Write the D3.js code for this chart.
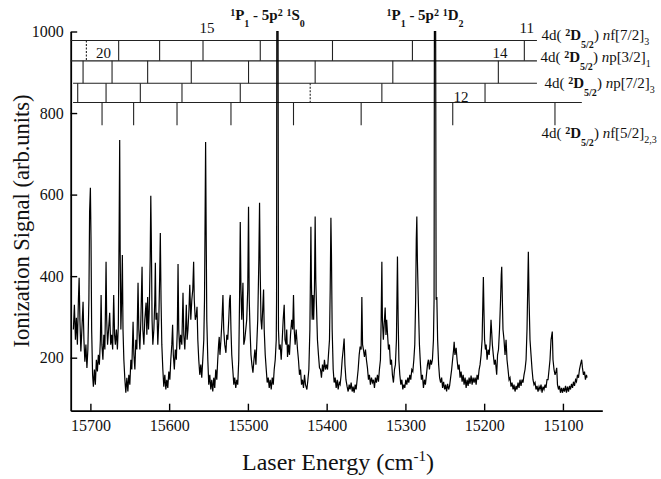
<!DOCTYPE html>
<html>
<head>
<meta charset="utf-8">
<script src="https://cdn.jsdelivr.net/npm/d3@7"></script>
<style>
  html, body { margin: 0; padding: 0; background: #fff; }
  svg { display: block; }
  svg text { font-family: "Liberation Serif", "DejaVu Serif", "Times New Roman", serif; }
</style>
</head>
<body>
<svg id="chart" width="661" height="479"></svg>
<script>
// Ionization spectrum: [laser energy (cm^-1), signal (arb. units)]
const spectrum = [
  [15721.6,269],[15720.3,330],[15719.0,244],[15717.8,298],[15716.5,232],[15715.2,342],[15714.3,396],[15713.3,293],
  [15712.1,215],[15710.8,269],[15709.3,337],[15708.2,244],[15707.0,190],[15705.7,232],[15704.4,175],[15703.2,220],
  [15701.9,342],[15701.0,558],[15700.0,617],[15699.2,489],[15698.4,269],[15697.2,158],[15696.2,129],[15694.9,171],
  [15693.7,134],[15692.4,195],[15691.1,166],[15689.9,207],[15688.6,183],[15687.3,244],[15686.4,354],[15685.4,232],
  [15684.1,195],[15682.9,256],[15681.6,220],[15680.7,342],[15680.1,435],[15679.3,293],[15678.2,232],[15676.9,269],
  [15675.5,310],[15674.2,232],[15673.0,256],[15671.7,220],[15670.4,354],[15669.3,256],[15668.3,232],[15667.0,269],
  [15665.7,220],[15664.5,281],[15663.5,514],[15662.8,734],[15662.2,465],[15661.3,269],[15660.3,342],[15659.4,452],
  [15658.6,269],[15657.5,195],[15656.2,146],[15655.0,114],[15653.7,151],[15652.4,117],[15651.2,158],[15649.9,134],
  [15648.6,195],[15647.4,171],[15645.8,288],[15644.8,207],[15643.5,171],[15642.3,244],[15641.0,220],[15639.5,384],
  [15638.5,269],[15637.2,220],[15635.9,293],[15634.4,423],[15633.4,269],[15632.1,232],[15630.9,293],[15629.3,335],
  [15628.3,256],[15627.3,349],[15626.2,269],[15625.2,318],[15624.1,440],[15623.3,597],[15622.6,489],[15621.7,293],
  [15620.7,232],[15619.4,269],[15618.2,342],[15617.5,433],[15616.7,293],[15615.4,310],[15614.4,232],[15613.1,293],
  [15612.1,391],[15611.2,506],[15610.3,342],[15609.3,232],[15608.0,171],[15606.8,129],[15605.5,158],[15604.2,122],
  [15603.0,146],[15601.7,126],[15600.4,166],[15599.1,146],[15597.9,195],[15596.6,232],[15595.6,281],[15594.7,207],
  [15593.4,171],[15592.2,220],[15590.9,195],[15589.6,269],[15588.7,430],[15587.8,269],[15586.7,220],[15585.4,256],
  [15583.9,232],[15582.4,359],[15581.4,256],[15580.1,220],[15579.1,269],[15578.2,330],[15577.2,244],[15576.1,269],
  [15574.8,318],[15573.8,379],[15572.5,293],[15571.2,342],[15570.0,367],[15568.9,435],[15568.1,342],[15566.8,293],
  [15565.5,305],[15564.6,325],[15563.6,244],[15562.4,195],[15561.1,158],[15559.8,183],[15558.6,151],[15557.3,195],
  [15556.0,244],[15555.1,342],[15554.5,501],[15553.7,729],[15553.0,514],[15552.2,293],[15550.9,195],[15549.7,134],
  [15548.4,158],[15547.1,122],[15545.9,146],[15544.6,117],[15543.3,151],[15542.1,126],[15540.8,171],[15539.5,146],
  [15538.3,195],[15537.2,232],[15536.4,251],[15535.5,207],[15534.2,244],[15532.9,293],[15531.7,354],[15530.7,269],
  [15529.4,232],[15527.9,212],[15526.8,256],[15525.6,244],[15524.3,293],[15523.3,342],[15522.4,354],[15521.5,269],
  [15520.5,207],[15519.2,171],[15517.9,134],[15516.7,151],[15515.4,126],[15514.1,146],[15512.9,134],[15511.6,195],
  [15510.6,342],[15509.7,533],[15508.8,367],[15507.8,293],[15506.3,384],[15505.2,232],[15504.0,244],[15502.7,269],
  [15501.5,293],[15500.2,367],[15499.2,570],[15498.3,342],[15497.3,269],[15496.1,207],[15494.9,183],[15493.6,163],
  [15492.3,195],[15491.1,220],[15489.8,183],[15488.5,244],[15487.5,293],[15486.1,440],[15485.2,580],[15484.4,416],
  [15483.4,293],[15482.4,269],[15481.2,318],[15480.1,367],[15479.3,269],[15478.0,207],[15476.7,171],[15475.5,139],
  [15474.2,151],[15472.9,126],[15471.7,146],[15470.4,122],[15469.1,151],[15467.8,134],[15466.6,171],[15465.3,195],
  [15464.0,244],[15463.6,342],[15463.3,1000],[15461.7,1000],[15461.2,269],[15460.2,220],[15459.0,232],[15457.7,195],
  [15456.4,244],[15455.2,293],[15453.9,330],[15452.9,244],[15451.6,232],[15450.7,269],[15449.7,202],[15448.4,232],
  [15447.2,207],[15445.9,256],[15444.4,293],[15443.1,269],[15442.1,354],[15441.2,269],[15440.0,232],[15438.7,269],
  [15437.0,220],[15435.8,195],[15434.5,158],[15433.2,171],[15431.9,134],[15430.7,146],[15429.4,126],[15428.1,158],
  [15426.9,134],[15425.1,122],[15423.8,146],[15422.6,171],[15421.3,269],[15420.5,416],[15420.0,521],[15419.4,391],
  [15418.4,293],[15417.5,354],[15416.5,293],[15415.5,367],[15414.6,546],[15413.8,391],[15412.9,327],[15411.7,244],
  [15410.4,207],[15409.1,175],[15407.8,171],[15406.6,151],[15405.3,183],[15404.0,166],[15402.8,195],[15401.5,171],
  [15400.2,183],[15398.9,171],[15397.7,207],[15396.4,244],[15395.5,367],[15394.6,543],[15393.9,452],[15393.0,269],
  [15391.7,171],[15390.5,139],[15389.2,151],[15387.9,126],[15386.6,146],[15385.4,122],[15384.1,139],[15382.9,134],
  [15381.6,158],[15380.3,195],[15379.0,220],[15377.8,247],[15376.8,183],[15375.5,146],[15374.0,129],[15372.7,117],
  [15371.4,134],[15370.2,122],[15368.9,139],[15367.6,117],[15366.4,129],[15365.1,114],[15363.8,134],[15362.6,122],
  [15361.3,146],[15360.0,171],[15358.7,207],[15357.5,227],[15356.2,220],[15355.3,349],[15354.4,232],[15353.3,220],
  [15352.0,202],[15350.7,220],[15349.5,195],[15348.2,175],[15346.9,146],[15345.7,158],[15344.4,134],[15343.1,151],
  [15341.8,139],[15340.6,146],[15339.3,126],[15338.1,151],[15336.8,139],[15335.5,158],[15334.2,141],[15333.0,171],
  [15331.7,195],[15330.8,293],[15329.9,435],[15329.2,293],[15328.0,244],[15327.0,281],[15325.7,323],[15324.7,256],
  [15323.8,293],[15322.8,261],[15321.5,220],[15320.3,232],[15319.0,183],[15317.7,195],[15316.5,158],[15315.2,139],
  [15313.9,171],[15312.7,183],[15311.4,244],[15310.1,448],[15309.2,293],[15308.3,195],[15307.1,158],[15305.8,134],
  [15304.5,146],[15303.3,122],[15302.0,134],[15300.8,126],[15299.5,146],[15298.2,134],[15296.9,151],[15295.7,139],
  [15294.4,158],[15293.2,146],[15291.9,171],[15290.6,166],[15289.3,195],[15288.1,232],[15287.0,342],[15286.2,489],
  [15285.5,546],[15284.8,440],[15283.5,330],[15282.2,232],[15280.9,183],[15279.7,146],[15278.4,158],[15277.1,126],
  [15275.8,146],[15274.6,134],[15273.3,158],[15272.0,183],[15270.8,195],[15269.5,171],[15268.2,195],[15267.0,183],
  [15265.7,195],[15264.4,244],[15263.6,342],[15263.2,1000],[15261.6,1000],[15261.0,342],[15260.1,349],[15259.1,244],
  [15257.8,183],[15256.6,151],[15255.3,139],[15254.0,151],[15252.8,126],[15251.5,141],[15250.2,122],[15248.9,134],
  [15247.7,117],[15246.4,136],[15245.1,122],[15243.9,131],[15242.6,151],[15241.3,171],[15240.1,195],[15238.8,220],
  [15238.1,239],[15237.1,207],[15235.6,224],[15234.4,195],[15233.1,171],[15231.8,183],[15230.6,151],[15229.3,166],
  [15228.0,141],[15226.7,158],[15225.5,134],[15224.2,151],[15222.9,126],[15221.7,146],[15220.4,131],[15219.1,151],
  [15217.9,136],[15216.6,156],[15215.3,134],[15214.1,151],[15212.8,139],[15211.5,151],[15210.2,134],[15209.0,158],
  [15207.7,146],[15206.4,171],[15205.2,183],[15203.9,207],[15202.6,244],[15201.6,342],[15201.0,398],[15200.3,318],
  [15199.5,244],[15198.4,220],[15197.5,232],[15196.3,195],[15195.0,220],[15193.7,207],[15192.6,232],[15191.3,293],
  [15190.4,261],[15189.6,232],[15188.4,207],[15187.1,183],[15185.8,195],[15184.1,158],[15183.0,207],[15181.8,220],
  [15180.5,269],[15179.2,342],[15178.3,403],[15177.7,423],[15176.9,342],[15176.1,269],[15174.8,244],[15173.5,207],
  [15172.2,244],[15171.0,195],[15169.7,171],[15168.4,146],[15167.2,151],[15165.9,129],[15164.6,139],[15163.3,122],
  [15162.1,134],[15160.8,117],[15159.5,131],[15158.3,122],[15157.0,139],[15155.7,126],[15154.5,146],[15153.2,131],
  [15151.9,146],[15150.7,139],[15149.4,158],[15148.1,171],[15146.8,195],[15145.6,269],[15143.9,460],[15143.0,342],
  [15141.8,244],[15140.5,207],[15139.2,171],[15138.0,146],[15136.7,134],[15135.4,139],[15134.2,122],[15132.9,131],
  [15131.6,117],[15130.3,129],[15129.1,122],[15127.8,134],[15126.5,114],[15125.3,129],[15124.0,122],[15122.7,134],
  [15121.5,126],[15120.2,146],[15118.9,146],[15117.6,171],[15116.4,195],[15115.1,244],[15113.5,264],[15112.6,195],
  [15111.3,171],[15110.0,158],[15108.8,166],[15107.9,175],[15106.9,134],[15105.6,122],[15104.4,131],[15103.1,114],
  [15101.8,126],[15100.5,114],[15099.3,126],[15098.0,117],[15096.7,131],[15095.5,114],[15094.2,129],[15092.9,117],
  [15091.6,131],[15090.4,122],[15089.1,136],[15087.8,126],[15086.6,141],[15085.3,131],[15084.0,146],[15082.8,141],
  [15081.5,158],[15080.2,151],[15079.0,171],[15077.7,183],[15076.2,195],[15075.2,175],[15073.9,158],[15072.6,166],
  [15071.4,146],[15070.1,158],[15069.4,151]
];

// Axis ranges and ticks
const energyDomain = [15725, 15050];
const signalDomain = [70, 1000];
const energyMajorTicks = [15700, 15600, 15500, 15400, 15300, 15200, 15100];
const energyMinorTicks = [15650, 15550, 15450, 15350, 15250, 15150, 15050];
const signalMajorTicks = [200, 400, 600, 800, 1000];
const signalMinorTicks = [100, 300, 500, 700, 900];

// Rydberg series level positions (cm^-1)
const nf72Levels = [15705.1, 15664.1, 15612.1, 15557.0, 15484.3, 15392.6, 15291.1, 15149.0];
const np32Levels = [15709.3, 15672.5, 15627.3, 15571.9, 15499.2, 15414.6, 15316.0, 15182.0];
const np72Levels = [15716.1, 15680.1, 15636.6, 15583.7, 15509.7, 15420.9, 15329.9, 15198.9];
const nf52Levels = [15685.2, 15645.1, 15590.0, 15521.5, 15442.1, 15356.2, 15239.9, 15110.1];
// Signal heights of the bracket rows: nf[7/2], np[3/2], np[7/2], nf[5/2], tick end
const rowSignal = [978, 928, 873, 826, 770];
const rowStart = [15725, 15725, 15722, 15722];
const rowEnd = [15133, 15133, 15133, 15076];
// Principal quantum numbers marked on the brackets: [text, energy, signal]
const nLabels = [["20", 15683.5, 935], ["15", 15552.0, 996], ["11", 15146.0, 996], ["14", 15180.0, 935], ["12", 15229.5, 828]];
// Perturbing 5p^2 transitions (cm^-1)
const perturbers = [
  { energy: 15462.5, final: "S", sub: "0" },
  { energy: 15262.4, final: "D", sub: "2" }
];
// Series designations
const seriesLabels = [
  { nl: "f", j: "[7/2]", sub: "3" },
  { nl: "p", j: "[3/2]", sub: "1" },
  { nl: "p", j: "[7/2]", sub: "3" },
  { nl: "f", j: "[5/2]", sub: "2,3" }
];

const serif = "'Liberation Serif', 'DejaVu Serif', 'Times New Roman', serif";
const svg = d3.select("#chart").attr("font-family", serif);
const x = d3.scaleLinear().domain(energyDomain).range([70.7, 602.3]);
const y = d3.scaleLinear().domain(signalDomain).range([410.7, 31.5]);

// ---- axes ----
const axisColor = "#000";
const gx = svg.append("g").attr("transform", `translate(0,${y(signalDomain[0])})`);
gx.call(d3.axisBottom(x).tickValues(energyMinorTicks).tickSize(-3.5).tickSizeOuter(0).tickFormat(""));
gx.call(d3.axisBottom(x).tickValues(energyMajorTicks).tickSize(-7).tickSizeOuter(0).tickPadding(9).tickFormat(d3.format("d")));
const gy = svg.append("g").attr("transform", `translate(${x(energyDomain[0])},0)`);
gy.call(d3.axisLeft(y).tickValues(signalMinorTicks).tickSize(-3.5).tickSizeOuter(0).tickFormat(""));
gy.call(d3.axisLeft(y).tickValues(signalMajorTicks).tickSize(-6.5).tickSizeOuter(0).tickPadding(7).tickFormat(d3.format("d")));
gx.attr("font-family", serif);
gy.attr("font-family", serif);
svg.selectAll(".domain").attr("stroke", axisColor).attr("stroke-width", 1.8);
svg.selectAll(".tick line").attr("stroke", axisColor).attr("stroke-width", 1.4);
svg.selectAll(".tick text").attr("font-size", 16).attr("fill", "#111").attr("font-family", serif);

// ---- series brackets ----
const br = svg.append("g").attr("stroke", "#222").attr("stroke-width", 1.1);
rowStart.forEach((s, i) => {
  br.append("line").attr("x1", x(s)).attr("x2", x(rowEnd[i]))
    .attr("y1", y(rowSignal[i])).attr("y2", y(rowSignal[i]));
});
const rows = [nf72Levels, np32Levels, np72Levels, nf52Levels];
const dashed = [[0], [], [5], []];
rows.forEach((levels, i) => {
  br.selectAll(null).data(levels).join("line")
    .attr("x1", d => x(d)).attr("x2", d => x(d))
    .attr("y1", y(rowSignal[i])).attr("y2", y(rowSignal[i + 1]))
    .attr("stroke-dasharray", (d, k) => dashed[i].includes(k) ? "2,1.5" : null);
});

svg.selectAll(null).data(nLabels).join("text")
  .attr("x", d => x(d[1])).attr("y", d => y(d[2]))
  .attr("text-anchor", "middle").attr("font-size", 15).attr("fill", "#111")
  .attr("font-family", serif)
  .text(d => d[0]);

// Series names at the right end of each row
const labelBase = [40, 62, 88, 138];
const labelX = [541.5, 540.5, 544.5, 541.5];
seriesLabels.forEach((s, i) => {
  const t = svg.append("text").attr("x", labelX[i]).attr("y", labelBase[i])
    .attr("font-size", 15).attr("fill", "#111").attr("font-family", serif);
  t.append("tspan").text("4d( ");
  t.append("tspan").attr("font-weight", "bold").attr("font-size", 10).attr("dy", -4).text("2");
  t.append("tspan").attr("font-weight", "bold").attr("dy", 4).text("D");
  t.append("tspan").attr("font-weight", "bold").attr("font-size", 10).attr("dy", 8).text("5/2");
  t.append("tspan").attr("dy", -8).text(")\u00a0");
  t.append("tspan").attr("font-style", "italic").text("n");
  t.append("tspan").text(s.nl + s.j);
  t.append("tspan").attr("font-size", 10).attr("dy", 5).text(s.sub);
});

// ---- spectrum ----
const line = d3.line().x(d => x(d[0])).y(d => y(d[1]));
svg.append("path").datum(spectrum)
  .attr("fill", "none").attr("stroke", "#000").attr("stroke-width", 1.2)
  .attr("stroke-linejoin", "miter").attr("d", line);

// ---- 1P1 - 5p2 perturber labels ----
perturbers.forEach(p => {
  const t = svg.append("text").attr("x", x(p.energy) - 10).attr("y", 20)
    .attr("text-anchor", "middle").attr("font-size", 15).attr("font-weight", "bold")
    .attr("fill", "#111").attr("font-family", serif);
  t.append("tspan").attr("font-size", 10).attr("dy", -4).text("1");
  t.append("tspan").attr("dy", 4).text("P");
  t.append("tspan").attr("font-size", 10).attr("dy", 7).text("1");
  t.append("tspan").attr("dy", -7).text(" - 5p");
  t.append("tspan").attr("font-size", 10).attr("dy", -4).text("2");
  t.append("tspan").attr("dy", 4).text(" ");
  t.append("tspan").attr("font-size", 10).attr("dy", -4).text("1");
  t.append("tspan").attr("dy", 4).text(p.final);
  t.append("tspan").attr("font-size", 10).attr("dy", 7).text(p.sub);
});

// ---- axis titles ----
const xt = svg.append("text").attr("x", 338).attr("y", 470)
  .attr("text-anchor", "middle").attr("font-size", 24).attr("fill", "#111").attr("font-family", serif);
xt.append("tspan").text("Laser Energy (cm");
xt.append("tspan").attr("font-size", 15).attr("dy", -9).text("-1");
xt.append("tspan").attr("dy", 9).text(")");

svg.append("text").attr("transform", "translate(29,221) rotate(-90)")
  .attr("text-anchor", "middle").attr("font-size", 22.5).attr("fill", "#111").attr("font-family", serif)
  .text("Ionization Signal (arb.units)");
</script>
</body>
</html>
